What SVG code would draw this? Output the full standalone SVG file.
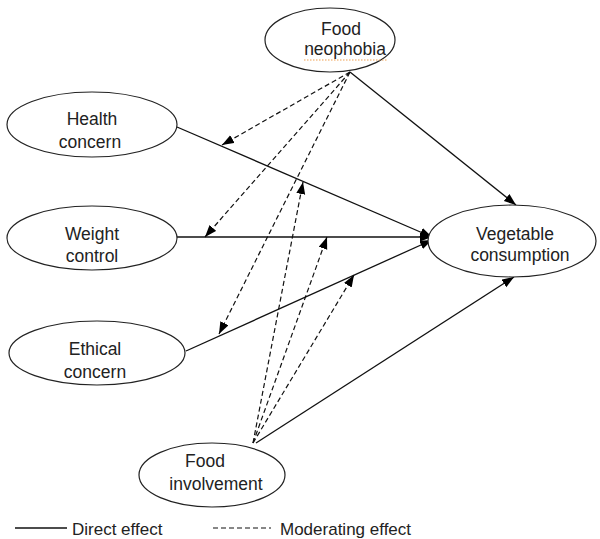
<svg xmlns="http://www.w3.org/2000/svg" width="600" height="539" viewBox="0 0 600 539">
<style>
.node ellipse{fill:#fff;stroke:#222;stroke-width:1.2}
text{font-family:"Liberation Sans",Arial,sans-serif;font-size:17.5px;fill:#222;text-anchor:middle}
.d{stroke:#111;stroke-width:1.3;fill:none}
.m{stroke:#111;stroke-width:1.2;fill:none;stroke-dasharray:5 3}
.leg{text-anchor:start;font-size:17px}
</style>
<defs>
<marker id="ah" markerUnits="userSpaceOnUse" markerWidth="13" markerHeight="10" refX="12" refY="4.5" orient="auto">
<path d="M0,0 L12,4.5 L0,9 z" fill="#000"/>
</marker>
</defs>
<rect width="600" height="539" fill="#fff"/>
<g id="connectors">
<line class="d" x1="177" y1="127" x2="432" y2="237" marker-end="url(#ah)"/>
<line class="d" x1="177" y1="237" x2="432" y2="237" marker-end="url(#ah)"/>
<line class="d" x1="186" y1="351" x2="432" y2="240" marker-end="url(#ah)"/>
<line class="d" x1="350" y1="72" x2="516" y2="205" marker-end="url(#ah)"/>
<line class="d" x1="256" y1="443" x2="514" y2="277" marker-end="url(#ah)"/>
<line class="m" x1="350" y1="72" x2="222" y2="145" marker-end="url(#ah)"/>
<line class="m" x1="350" y1="72" x2="205" y2="237" marker-end="url(#ah)"/>
<line class="m" x1="350" y1="72" x2="219" y2="334" marker-end="url(#ah)"/>
<line class="m" x1="253" y1="443" x2="303" y2="182" marker-end="url(#ah)"/>
<line class="m" x1="253" y1="443" x2="327" y2="237" marker-end="url(#ah)"/>
<line class="m" x1="253" y1="443" x2="354" y2="275" marker-end="url(#ah)"/>
</g>
<g id="food-neophobia" class="node">
<ellipse cx="330" cy="40" rx="65" ry="32"/>
<text x="341" y="35">Food</text>
<text x="345" y="55">neophobia</text>
<line x1="304" y1="60" x2="388" y2="60" stroke="#f0a050" stroke-width="1.2" stroke-dasharray="1.5 1.5"/>
</g>
<g id="health-concern" class="node">
<ellipse cx="92" cy="124.5" rx="85" ry="32.5"/>
<text x="92" y="125">Health</text>
<text x="90" y="148">concern</text>
</g>
<g id="weight-control" class="node">
<ellipse cx="92" cy="238" rx="85" ry="32"/>
<text x="92" y="240">Weight</text>
<text x="92" y="262">control</text>
</g>
<g id="ethical-concern" class="node">
<ellipse cx="97" cy="353" rx="88" ry="32"/>
<text x="95" y="355">Ethical</text>
<text x="95" y="378">concern</text>
</g>
<g id="vegetable-consumption" class="node">
<ellipse cx="512" cy="241" rx="84" ry="36"/>
<text x="515" y="240">Vegetable</text>
<text x="520" y="261">consumption</text>
</g>
<g id="food-involvement" class="node">
<ellipse cx="212" cy="475" rx="73" ry="32"/>
<text x="205" y="467">Food</text>
<text x="216" y="490">involvement</text>
</g>
<g id="legend">
<line class="d" x1="15" y1="528" x2="67" y2="528"/>
<text class="leg" x="72" y="535">Direct effect</text>
<line class="m" x1="213" y1="528" x2="271" y2="528"/>
<text class="leg" x="280" y="535">Moderating effect</text>
</g>
</svg>
